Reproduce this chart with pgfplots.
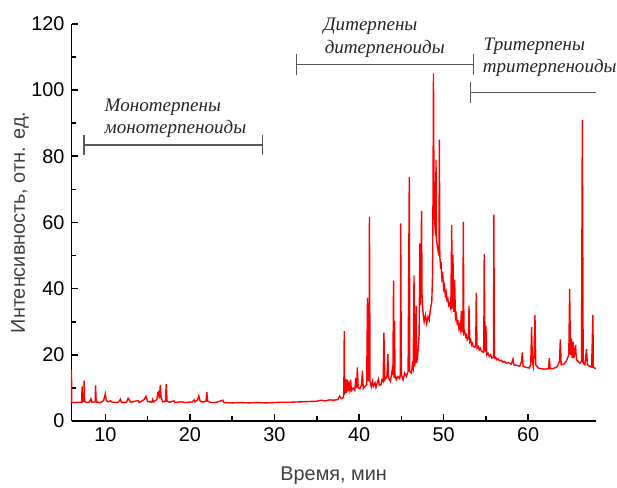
\documentclass[border=0pt]{standalone}
\usepackage{fontspec}
\setmainfont{Liberation Sans}
\newfontfamily\tnr{Liberation Serif}
\usepackage{pgfplots}
\pgfplotsset{compat=1.18}

\begin{document}
\begin{tikzpicture}
\begin{axis}[
  scale only axis, width=264pt, height=200pt,
  xmin=6, xmax=68, ymin=0, ymax=120,
  axis x line*=bottom, axis y line*=left,
  axis line style={line width=0.75pt},
  tick align=inside,
  tick style={black, line width=0.75pt},
  major tick length=3.5pt, minor tick length=2.5pt,
  xtick={10,20,30,40,50,60}, minor x tick num=1,
  ytick={0,20,40,60,80,100,120}, minor y tick num=1,
  ticklabel style={font=\fontsize{10}{12}\selectfont},
  /pgf/number format/assume math mode=true,
  xlabel={Время, мин}, ylabel={Интенсивность, отн. ед.},
  label style={font=\fontsize{10}{12}\selectfont, text=black!75},
  xlabel style={at={(axis description cs:0.5,-0.1375)}, anchor=center},
  ylabel style={at={(axis description cs:-0.098,0.5)}, anchor=center},
  clip=false,
]
\addplot[red, line width=0.7pt] coordinates {
(6.0,15.5) (6.02,5.6) (6.5,5.6) (7.0,5.7) (7.2,5.6) (7.25,10.5) (7.3,5.8) (7.45,6) (7.5,12.2) (7.55,6) (7.7,5.6)
(8.1,5.7) (8.3,6.7) (8.4,5.7) (8.8,5.8) (8.85,10.8) (8.9,6.8) (9.0,5.7) (9.4,5.6) (9.8,6.2) (10.0,8.2) (10.1,6.3)
(10.3,5.8) (10.6,6.1) (10.8,5.7) (11.5,5.6) (11.8,6.6) (11.9,5.7) (12.5,5.7) (12.7,6.9) (12.85,6.3) (13.0,5.7)
(13.9,6.2) (14.0,5.6) (14.6,6.5) (14.8,7.5) (15.0,5.9) (15.5,5.7) (15.6,6.5) (15.7,5.8) (16.1,6.5) (16.2,8.5)
(16.3,8.8) (16.4,6.8) (16.5,10.9) (16.6,7.2) (16.8,5.8) (17.1,6.0) (17.2,11.2) (17.3,6.0) (17.6,5.7) (18.1,6.1)
(18.2,5.6) (19,5.8) (19.5,5.6) (20.3,5.8) (20.5,6.4) (20.6,5.8) (20.9,6.4) (21.05,7.6) (21.2,6.1) (21.5,5.7)
(21.9,6.0) (22.0,8.7) (22.1,6.0) (22.5,5.6) (23.0,5.6) (23.9,6.3) (24.0,5.6) (25,5.5) (26,5.6) (27,5.5) (28,5.6)
(29,5.5) (30,5.6) (31,5.7) (32,5.7) (33,5.8) (34,5.9) (35,6.0) (35.5,6.3) (36,6.1) (36.5,6.4) (37,6.3)
(37.5,6.5) (37.7,7.5) (37.9,6.8) (38.1,7.0) (38.2,8) (38.25,27.2) (38.3,8.0) (38.4,12.7) (38.5,8.5) (38.6,12.5)
(38.7,9) (38.8,11) (38.9,9.5) (39.0,12.5) (39.1,9.2) (39.3,10) (39.5,9.3) (39.6,13) (39.7,10) (39.8,16.2)
(39.9,10) (40.1,9.8) (40.3,11) (40.4,15.2) (40.5,9.8) (40.7,10.5) (40.9,11) (41.0,37.2) (41.1,12) (41.2,14)
(41.23,61.7) (41.3,12) (41.45,10.3) (41.6,12) (41.7,10.5) (41.9,11.5) (42.0,10.2) (42.2,12) (42.3,12.7)
(42.4,10.8) (42.6,11) (42.7,12.5) (42.85,12) (42.94,26.7) (43.05,12.5) (43.2,13) (43.3,13.5) (43.4,20.2)
(43.5,13) (43.7,12) (43.8,13.5) (43.95,16) (44.0,14) (44.08,42.4) (44.15,13) (44.2,30.3) (44.25,14) (44.4,12.5)
(44.6,13.5) (44.8,12.8) (44.88,14) (44.92,59.7) (45.0,14) (45.2,12.5) (45.4,14.5) (45.6,13.5) (45.8,15)
(45.94,73.7) (46.0,15) (46.2,14.5) (46.3,17) (46.4,16) (46.5,44) (46.55,16.5) (46.65,18) (46.74,34.8) (46.8,17.5)
(46.9,19) (47.0,22) (47.1,26) (47.2,53.7) (47.25,35) (47.3,42) (47.39,63.5) (47.45,38) (47.55,33) (47.7,30)
(47.85,32) (48.0,29.5) (48.15,31.5) (48.3,30.5) (48.45,34) (48.6,36) (48.7,45) (48.75,72) (48.8,105) (48.85,75)
(48.95,60) (49.05,56) (49.1,79) (49.15,55) (49.3,52) (49.45,50) (49.5,85) (49.55,50) (49.65,46) (49.7,48) (49.8,43)
(49.9,44) (50.0,40) (50.1,41) (50.2,38) (50.3,39) (50.4,36.5) (50.5,37) (50.6,35) (50.7,35.5) (50.85,34) (50.96,59.2)
(51.0,34) (51.1,50.2) (51.2,33) (51.3,42.7) (51.4,31) (51.5,32) (51.6,29.5) (51.7,30) (51.8,28) (51.9,29) (52.0,27.5)
(52.1,33.3) (52.2,27) (52.28,27) (52.33,60.2) (52.4,26.5) (52.5,27) (52.6,25.5) (52.7,26) (52.8,24.5) (52.95,25)
(53.0,34.7) (53.1,24) (53.2,24.5) (53.3,23) (53.4,23.5) (53.5,22.5) (53.7,22.3) (53.8,23) (53.86,38.7) (53.95,22)
(54.1,22.5) (54.2,21.5) (54.35,22) (54.5,21) (54.7,20.8) (54.75,22) (54.8,50.4) (54.9,21) (55.0,28.8) (55.1,20)
(55.25,20.5) (55.4,19.5) (55.55,20) (55.7,19) (55.9,19.5) (55.94,62.4) (56.0,19) (56.15,19.3) (56.3,18.5)
(56.45,18.8) (56.6,18.2) (56.8,18.4) (57.0,17.8) (57.2,18) (57.4,17.5) (57.7,17.6) (58.0,17.2)
(58.2,18.7) (58.3,17) (58.7,16.8) (59.0,16.6) (59.2,18) (59.3,20.7) (59.4,16.5) (59.8,16.2) (60.1,16) (60.3,17)
(60.4,28.4) (60.5,18) (60.6,16.5) (60.7,20) (60.8,32) (60.9,17) (61.2,16) (61.6,15.8) (62.0,15.7) (62.4,15.8)
(62.5,19) (62.6,15.8) (63.0,15.9) (63.4,16.4) (63.7,18) (63.8,24.7) (63.9,17) (64.2,17.2) (64.5,18) (64.8,20)
(64.9,39.9) (65.0,20) (65.1,25) (65.2,19) (65.3,24) (65.4,19) (65.6,23) (65.7,18.5) (65.9,18) (66.1,17.5)
(66.3,18) (66.4,91) (66.5,17.5) (66.7,17) (66.9,21.7) (67.0,17) (67.3,16.5) (67.5,16.3) (67.65,32) (67.7,16.2)
(67.9,16) (68.0,15.8)
};
% group brackets
\draw[black!65, line width=0.6pt] (axis cs:7.48,80.3) -- (axis cs:7.48,86.5);
\draw[black!65, line width=0.6pt] (axis cs:7.48,83.4) -- (axis cs:28.6,83.4);
\draw[black!65, line width=0.6pt] (axis cs:28.6,80.3) -- (axis cs:28.6,86.5);
\draw[black!65, line width=0.6pt] (axis cs:32.57,104.6) -- (axis cs:32.57,110.8);
\draw[black!65, line width=0.6pt] (axis cs:32.57,107.7) -- (axis cs:53.58,107.7);
\draw[black!65, line width=0.6pt] (axis cs:53.58,104.6) -- (axis cs:53.58,110.8);
\draw[black!65, line width=0.6pt] (axis cs:53.2,96.1) -- (axis cs:53.2,102.3);
\draw[black!65, line width=0.6pt] (axis cs:53.2,99.2) -- (axis cs:68,99.2);
\begin{scope}[every node/.style={anchor=base west, inner sep=0pt, text=black!85, font=\tnr\itshape\fontsize{9.6}{12}\selectfont}]
\node at (axis cs:9.88,93.6) {Монотерпены};
\node at (axis cs:9.88,87.0) {монотерпеноиды};
\node at (axis cs:35.76,118) {Дитерпены};
\node at (axis cs:35.9,111) {дитерпеноиды};
\node at (axis cs:54.69,112) {Тритерпены};
\node (tri) at (axis cs:54.6,105.4) {тритерпеноиды};
\end{scope}
\end{axis}
\pgfresetboundingbox
\path ([xshift=-36pt,yshift=-33.5pt]current axis.south west) rectangle ([yshift=12pt]current axis.north east);
\path (tri.east);
\end{tikzpicture}
\end{document}
